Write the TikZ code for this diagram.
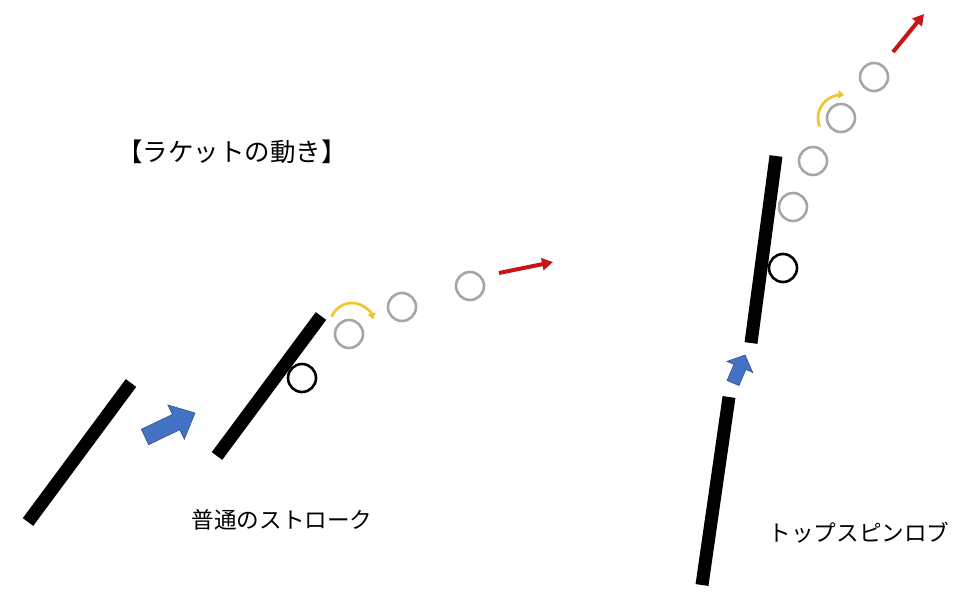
\documentclass[tikz,border=0pt]{standalone}
\usepackage{fontspec}
\newfontfamily\jpfont{Noto Sans CJK JP}
\usetikzlibrary{arrows.meta}
\definecolor{ballgray}{RGB}{166,166,166}
\definecolor{arrowblue}{RGB}{68,114,196}
\definecolor{arrowblueline}{RGB}{47,82,143}
\definecolor{spinyellow}{RGB}{240,195,50}
\definecolor{flyred}{RGB}{200,20,20}
\tikzset{
  racket/.style={line width=13pt, line cap=butt, black},
  ball/.style={circle, draw=ballgray, line width=2.6pt, minimum size=28pt, inner sep=0pt},
  hitball/.style={circle, draw=black, line width=2.6pt, minimum size=28pt, inner sep=0pt},
  spin/.style={draw=spinyellow, line width=2.7pt, -{Triangle[length=6pt,width=8pt]}},
  fly/.style={draw=flyred, line width=4pt, -{Triangle[length=11pt,width=12pt]}},
  blockarrow/.style={fill=arrowblue, draw=arrowblueline, line width=0.6pt},
  label/.style={font=\jpfont\fontsize{22.6pt}{26pt}\selectfont, inner sep=0pt},
  title/.style={font=\jpfont\fontsize{25.5pt}{28pt}\selectfont, inner sep=0pt}
}
\begin{document}
\begin{tikzpicture}[x=1pt,y=-1pt]
\useasboundingbox (0,0) rectangle (974,599);
% rackets
\coordinate (r1a) at (28,522); \coordinate (r1b) at (131,383);
\coordinate (r2a) at (217,456); \coordinate (r2b) at (321,316);
\coordinate (r3a) at (751,343); \coordinate (r3b) at (776,156);
\coordinate (r4a) at (702,585); \coordinate (r4b) at (729,397);
\draw[racket] (r1a) -- (r1b);
\draw[racket] (r2a) -- (r2b);
\draw[racket] (r3a) -- (r3b);
\draw[racket] (r4a) -- (r4b);
% blue block arrows
\begin{scope}[shift={(145,437)}, rotate=25.6]
\path[blockarrow] (0,-8.5) coordinate (ba1) -- (34.5,-8.5) -- (34.5,-19) -- (55.5,0) -- (34.5,19) -- (34.5,8.5) -- (0,8.5) -- cycle;
\end{scope}
\begin{scope}[shift={(733,383)}, rotate=66.8]
\path[blockarrow] (0,-6.5) coordinate (ba2) -- (17.5,-6.5) -- (17.5,-14) -- (30.5,0) -- (17.5,14) -- (17.5,6.5) -- (0,6.5) -- cycle;
\end{scope}
% normal stroke balls
\node[hitball] (h1) at (302,378) {};
\node[ball] (b1) at (349,334) {};
\node[ball] (b2) at (402,307) {};
\node[ball] (b3) at (470,286) {};
\coordinate (s1c) at (352,325);
\draw[spin] ([shift={(202:22)}]s1c) arc[start angle=202, end angle=345, radius=22];
\coordinate (f1a) at (499,273); \coordinate (f1b) at (553,262);
\draw[fly] (f1a) -- (f1b);
% top spin lob balls
\node[hitball] (h2) at (783,268) {};
\node[ball] (c1) at (793,207) {};
\node[ball] (c2) at (813,161) {};
\node[ball] (c3) at (841,118) {};
\node[ball] (c4) at (874,77) {};
\draw[spin] ([shift={(158:23)}]c3.center) arc[start angle=158, end angle=278, radius=23];
\coordinate (f2a) at (893,52); \coordinate (f2b) at (924,14);
\draw[fly] (f2a) -- (f2b);
% texts
\node[title] (t0) at (232,152) {【ラケットの動き】};
\node[label] (t1) at (282,520) {普通のストローク};
\node[label] (t2) at (859,533) {トップスピンロブ};
\end{tikzpicture}
\end{document}
